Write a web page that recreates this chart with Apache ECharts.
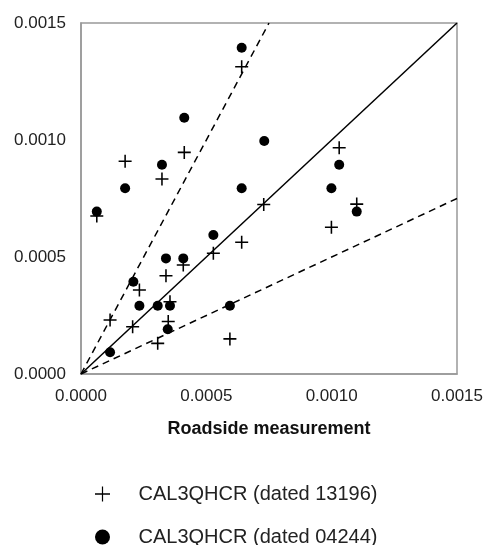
<!DOCTYPE html>
<html>
<head>
<meta charset="utf-8">
<script src="https://cdn.jsdelivr.net/npm/echarts@6/dist/echarts.min.js"></script>
<style>
    html, body { margin: 0; padding: 0; background: #fff; }
    #chart { width: 483px; height: 545px; }
</style>
</head>
<body>
<div id="chart"></div>
<script>
const plusX = [0.000063, 0.000116, 0.000176, 0.000206, 0.000233, 0.000306, 0.000323, 0.000339, 0.000348, 0.000355,
    0.000408, 0.000412, 0.000528, 0.000594, 0.000641, 0.000641, 0.000729, 0.000999, 0.00103, 0.0011];
const plusY = [0.000675, 0.000231, 0.000909, 0.000202, 0.000359, 0.000131, 0.000833, 0.00042, 0.000224, 0.000309,
    0.000466, 0.000947, 0.000516, 0.00015, 0.000563, 0.001313, 0.000724, 0.000627, 0.000967, 0.000726];
const dotX = [0.000063, 0.000116, 0.000176, 0.000209, 0.000233, 0.000306, 0.000323, 0.000339, 0.000346, 0.000355,
    0.000408, 0.000412, 0.000528, 0.000594, 0.000641, 0.000641, 0.000731, 0.000999, 0.00103, 0.0011];
const dotY = [0.000694, 0.000093, 0.000794, 0.000394, 0.000292, 0.000292, 0.000894, 0.000494, 0.000191, 0.000292,
    0.000494, 0.001095, 0.000594, 0.000292, 0.000794, 0.001394, 0.000996, 0.000794, 0.000894, 0.000694];
const seriesNames = ['CAL3QHCR (dated 13196)', 'CAL3QHCR (dated 04244)'];
const oneToOne = [[0, 0], [0.0015, 0.0015]];
const factorTwoUpper = [[0, 0], [0.00075, 0.0015]];
const factorTwoLower = [[0, 0], [0.0015, 0.00075]];

const plusMark = 'path://M8.8,0H11.2V8.8H20V11.2H11.2V20H8.8V11.2H0V8.8H8.8Z';
const plusLegend = 'path://M9.2,0H10.8V9H20V11H10.8V20H9.2V11H0V9H9.2Z';
const font = 'Liberation Sans, Arial, sans-serif';

const zip = (xs, ys) => xs.map((x, i) => [x, ys[i]]);

const chart = echarts.init(document.getElementById('chart'));

const refLine = (data, type) => ({
    type: 'line',
    data: data,
    symbol: 'none',
    silent: true,
    lineStyle: { color: '#000', width: 1.5, type: type },
    z: 1
});

const legendAt = (top, name, icon) => ({
    left: 90, top: top,
    itemWidth: 20, itemHeight: 15,
    textStyle: { fontSize: 20, color: '#222', fontFamily: font, padding: [0, 0, 0, 21] },
    data: [{ name: name, icon: icon }]
});

chart.setOption({
    animation: false,
    textStyle: { fontFamily: font },
    grid: {
        left: 81, top: 23, right: 26, bottom: 171,
        outerBoundsMode: 'none',
        show: true, borderColor: '#999', borderWidth: 1.5
    },
    xAxis: {
        type: 'value', min: 0, max: 0.0015, interval: 0.0005,
        name: 'Roadside measurement',
        nameLocation: 'middle',
        nameGap: 46,
        nameTextStyle: { fontWeight: 'bold', fontSize: 18, color: '#111', fontFamily: font },
        axisLine: { show: true, lineStyle: { color: '#999', width: 1.5 } },
        axisTick: { show: false },
        splitLine: { show: false },
        axisLabel: { margin: 14, fontSize: 17, color: '#222', formatter: v => v.toFixed(4) }
    },
    yAxis: {
        type: 'value', min: 0, max: 0.0015, interval: 0.0005,
        axisLine: { show: true, lineStyle: { color: '#999', width: 1.5 } },
        axisTick: { show: false },
        splitLine: { show: false },
        axisLabel: { margin: 15, fontSize: 17, color: '#222', formatter: v => v.toFixed(4) }
    },
    legend: [
        legendAt(479, seriesNames[0], plusLegend),
        legendAt(522, seriesNames[1], 'circle')
    ],
    series: [
        refLine(oneToOne, 'solid'),
        refLine(factorTwoUpper, [7, 5]),
        refLine(factorTwoLower, [7, 5]),
        {
            name: seriesNames[0],
            type: 'scatter',
            symbol: plusMark,
            symbolSize: 13,
            itemStyle: { color: '#000', opacity: 1 },
            data: zip(plusX, plusY),
            z: 3
        },
        {
            name: seriesNames[1],
            type: 'scatter',
            symbol: 'circle',
            symbolSize: 10,
            itemStyle: { color: '#000', opacity: 1 },
            data: zip(dotX, dotY),
            z: 2
        }
    ]
});
</script>
</body>
</html>
